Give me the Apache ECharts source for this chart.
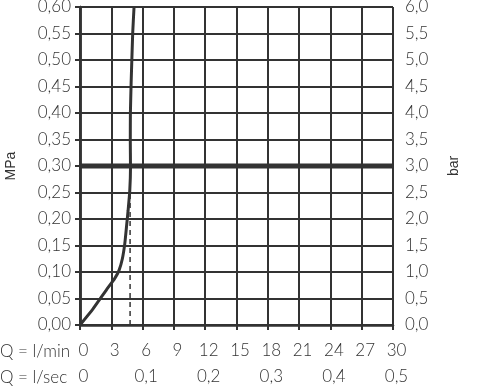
<!DOCTYPE html>
<html>
<head>
<meta charset="utf-8">
<script src="https://cdn.jsdelivr.net/npm/echarts@6/dist/echarts.min.js"></script>
<style>html,body{margin:0;padding:0;background:#fff}#c{width:500px;height:387px}</style>
</head>
<body>
<div id="c"></div>
<script>
// Flow (l/min) vs pressure (MPa)
const flowLmin = [0, 1.23, 2.52, 3.32, 3.74, 4.06, 4.29, 4.45, 4.61, 4.77, 4.84, 4.82, 4.83, 4.9, 5.05, 5.18];
const pressureMPa = [0, 0.03, 0.066, 0.0875, 0.103, 0.125, 0.153, 0.184, 0.216, 0.253, 0.297, 0.35, 0.40, 0.456, 0.55, 0.60];
const refPressure = 0.30;
const dashFlow = 4.8;
const dashTop = 0.26;
const xTicksMin = [0, 3, 6, 9, 12, 15, 18, 21, 24, 27, 30];
const xTicksSec = [0, 0.1, 0.2, 0.3, 0.4, 0.5];

const curve = flowLmin.map((x, i) => [x, pressureMPa[i]]);
const fmt = (v, d) => v.toFixed(d).replace('.', ',');
const txt = '#333';
const lbl = '#333';
const font = 'Lato';
const fs = 17;
const fw = 300;

const chart = echarts.init(document.getElementById('c'), null, {renderer: 'canvas'});
chart.setOption({
  animation: false,
  backgroundColor: '#fff',
  grid: {left: 80, right: 107, top: 7, bottom: 62, containLabel: false, outerBoundsMode: 'none'},
  xAxis: [{
    type: 'value', min: 0, max: 30, interval: 3, position: 'bottom',
    axisLine: {show: true, onZero: false, lineStyle: {color: txt, width: 2.5}},
    axisTick: {show: true, length: 5, lineStyle: {color: txt, width: 2}},
    splitLine: {show: true, lineStyle: {color: txt, width: 2}},
    axisLabel: {margin: 17, color: lbl, fontSize: fs, fontWeight: fw, fontFamily: font, padding: [0, 0, 0, 7],
      formatter: v => xTicksMin.includes(v) ? String(v) : ''}
  }, {
    type: 'value', min: 0, max: 0.5, interval: 0.1, position: 'bottom', offset: 26,
    axisLine: {show: false}, axisTick: {show: false}, splitLine: {show: false},
    axisLabel: {margin: 17, color: lbl, fontSize: fs, fontWeight: fw, fontFamily: font, padding: [0, 0, 0, 7],
      formatter: v => {
        const m = xTicksSec.find(t => Math.abs(t - v) < 1e-9);
        return m === undefined ? '' : (m === 0 ? '0' : fmt(m, 1));
      }}
  }],
  yAxis: [{
    type: 'value', min: 0, max: 0.6, interval: 0.05, position: 'left',
    name: 'MPa', nameLocation: 'middle', nameGap: 62, nameRotate: 90,
    nameTextStyle: {color: txt, fontSize: 14, fontFamily: 'Liberation Sans'},
    axisLine: {show: true, lineStyle: {color: txt, width: 2.5}},
    axisTick: {show: true, length: 5, lineStyle: {color: txt, width: 2}},
    splitLine: {show: true, lineStyle: {color: txt, width: 2}},
    axisLabel: {margin: 9, color: lbl, fontSize: fs, fontWeight: fw, fontFamily: font, formatter: v => fmt(v, 2)}
  }, {
    type: 'value', min: 0, max: 6, interval: 0.5, position: 'right',
    name: 'bar', nameLocation: 'middle', nameGap: 54, nameRotate: 90,
    nameTextStyle: {color: txt, fontSize: 14, fontFamily: 'Liberation Sans'},
    axisLine: {show: true, lineStyle: {color: txt, width: 2.5}},
    axisTick: {show: true, length: 6, lineStyle: {color: txt, width: 2}},
    splitLine: {show: false},
    axisLabel: {margin: 12, color: lbl, fontSize: fs, fontWeight: fw, fontFamily: font, formatter: v => fmt(v, 1)}
  }],
  graphic: [
    {type: 'text', left: 0, top: 343, style: {text: 'Q = l/min', fill: lbl, font: fw + ' ' + fs + 'px Lato'}},
    {type: 'text', left: 0, top: 369, style: {text: 'Q = l/sec', fill: lbl, font: fw + ' ' + fs + 'px Lato'}}
  ],
  series: [{
    type: 'line', xAxisIndex: 0, yAxisIndex: 0, data: [[0, refPressure], [30, refPressure]],
    symbol: 'none', lineStyle: {color: txt, width: 5}, z: 3
  }, {
    type: 'line', xAxisIndex: 0, yAxisIndex: 0, data: [[dashFlow, 0], [dashFlow, dashTop]],
    symbol: 'none', lineStyle: {color: txt, width: 1.5, type: [5, 4]}, z: 4
  }, {
    type: 'line', xAxisIndex: 0, yAxisIndex: 0, data: curve, smooth: 0.15,
    symbol: 'none', lineStyle: {color: txt, width: 3}, z: 5
  }]
});
</script>
</body>
</html>
